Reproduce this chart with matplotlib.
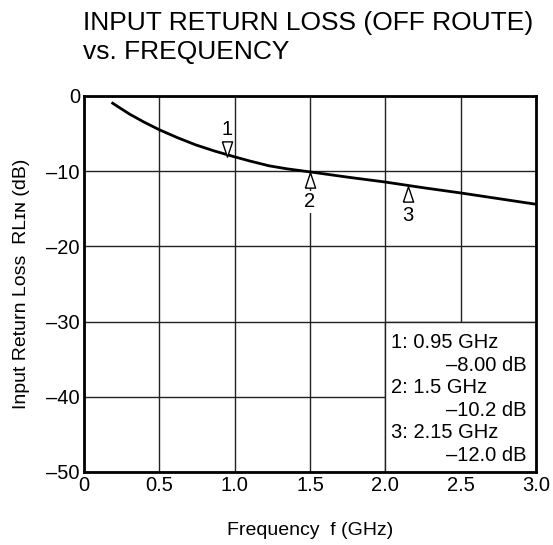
import numpy as np
import matplotlib.pyplot as plt
import matplotlib.patches as mpatches

plt.rcParams['font.family'] = ['Liberation Sans', 'DejaVu Sans']

# curve
freq = [0.19, 0.25, 0.305, 0.4, 0.5, 0.62, 0.74, 0.87, 1.0, 1.1, 1.23, 1.35, 1.5,
	1.75, 2.0, 2.25, 2.5, 2.75, 3.0]
rl = [-0.97, -1.75, -2.45, -3.5, -4.5, -5.55, -6.5, -7.35, -8.1, -8.65, -9.3, -9.7, -10.1,
	-10.8, -11.45, -12.2, -12.9, -13.65, -14.4]

# markers
mk_id = ['1', '2', '3']
mk_freq = [0.95, 1.5, 2.15]
mk_val = [-8.00, -10.2, -12.0]
mk_up = [True, False, False]   # True: marker sits above the curve

xticks = [0, 0.5, 1.0, 1.5, 2.0, 2.5, 3.0]
xlabels = ['0', '0.5', '1.0', '1.5', '2.0', '2.5', '3.0']
yticks = [0, -10, -20, -30, -40, -50]
ylabels = ['0', '\u201310', '\u201320', '\u201330', '\u201340', '\u201350']

legend_lines = [
	('1: 0.95 GHz', '\u20138.00 dB'),
	('2: 1.5 GHz', '\u201310.2 dB'),
	('3: 2.15 GHz', '\u201312.0 dB'),
]

tri_down = [(-0.67, 1), (0.67, 1), (0, -1), (-0.67, 1)]
tri_up = [(-0.67, -1), (0.67, -1), (0, 1), (-0.67, -1)]

fig = plt.figure(figsize=(5.53, 5.45), dpi=100)
ax = fig.add_axes([0.152, 0.134, 0.817, 0.690])

ax.set_xlim(0, 3.0)
ax.set_ylim(-50, 0)
ax.set_xticks(xticks)
ax.set_xticklabels(xlabels, fontsize=14.5)
ax.set_yticks(yticks)
ax.set_yticklabels(ylabels, fontsize=14.5)
ax.tick_params(length=0, pad=3)
for s in ax.spines.values():
	s.set_linewidth(2)
ax.grid(True, color='#222222', lw=1)
ax.set_axisbelow(True)

# white box for the marker readout, covers grid in lower right cells
ax.add_patch(mpatches.Rectangle((2.0, -50), 1.0, 20, facecolor='white',
	edgecolor='#222222', lw=1, zorder=1.5))

ax.plot(freq, rl, color='black', lw=2, zorder=3, solid_joinstyle='round')

for mid, f, v, up in zip(mk_id, mk_freq, mk_val, mk_up):
	if up:
		ax.plot(f, v + 1.0, marker=tri_down, ms=11, mfc='white', mec='black', mew=1, zorder=4)
		ax.text(f, v + 3.5, mid, ha='center', va='center', fontsize=14.5, zorder=4)
	else:
		ax.plot(f, v - 1.0, marker=tri_up, ms=11, mfc='white', mec='black', mew=1, zorder=4)
		ax.text(f, v - 3.9, mid, ha='center', va='center', fontsize=14.5, zorder=4,
			bbox=dict(facecolor='white', edgecolor='none', pad=1.0))

row_y = -32.8
for left, right in legend_lines:
	ax.text(2.04, row_y, left, ha='left', va='center', fontsize=14.5, zorder=4)
	ax.text(2.94, row_y - 3.0, right, ha='right', va='center', fontsize=14.5, zorder=4)
	row_y -= 6.0

ax.set_xlabel('Frequency  f (GHz)', fontsize=14, labelpad=19)
ax.set_ylabel('Input Return Loss  RL\u026a\u0274 (dB)', fontsize=14, labelpad=12)

fig.text(0.150, 0.957, 'INPUT RETURN LOSS (OFF ROUTE)', ha='left', va='center', fontsize=19)
fig.text(0.150, 0.905, 'vs. FREQUENCY', ha='left', va='center', fontsize=19)

fig.savefig('out.png', dpi=100)
